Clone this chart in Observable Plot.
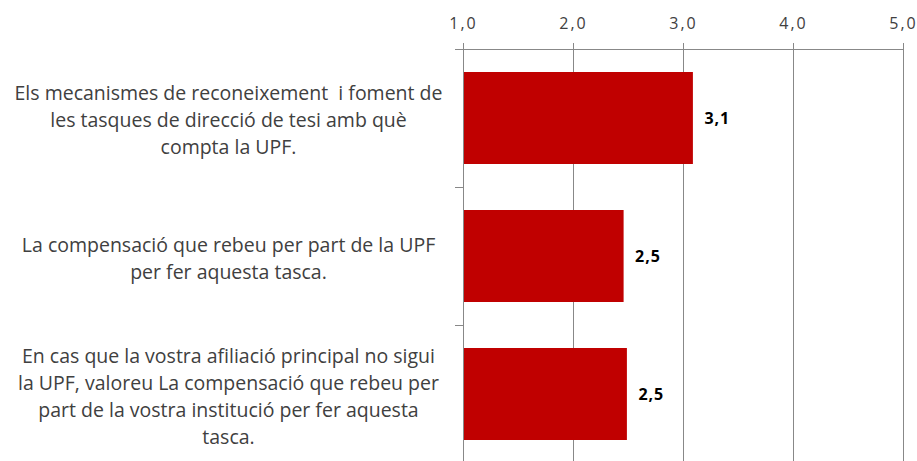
<!DOCTYPE html>
<html>
<head>
<meta charset="utf-8">
<script src="https://cdn.jsdelivr.net/npm/d3@7"></script>
<script src="https://cdn.jsdelivr.net/npm/@observablehq/plot@0.6"></script>
<style>
  html, body { margin: 0; padding: 0; background: #fff; }
  svg { display: block; }
  g[aria-label="x-axis tick label"] text { letter-spacing: 2px; }
  g[aria-label="text"] text { letter-spacing: 1px; }
</style>
</head>
<body>
<div id="chart"></div>
<script>
const categories = [
  "Els mecanismes de reconeixement  i foment de\nles tasques de direcció de tesi amb què\ncompta la UPF.",
  "La compensació que rebeu per part de la UPF\nper fer aquesta tasca.",
  "En cas que la vostra afiliació principal no sigui\nla UPF, valoreu La compensació que rebeu per\npart de la vostra institució per fer aquesta\ntasca."
];
const values = [3.09, 2.46, 2.49];
const xTicks = [1, 2, 3, 4, 5];

const data = categories.map((c, i) => ({label: c, value: values[i]}));
const fmt = d => d.toFixed(1).replace(".", ",");
const font = "'Open Sans', sans-serif";

const chart = Plot.plot({
  width: 917,
  height: 461,
  marginTop: 49,
  marginLeft: 463,
  marginRight: 14,
  marginBottom: 0,
  style: {fontFamily: font, background: "#fff"},
  x: {domain: [1, 5], range: [463, 903]},
  y: {domain: categories, range: [49, 463], padding: 0},
  marks: [
    Plot.gridX(xTicks, {stroke: "#888", strokeOpacity: 1}),
    Plot.axisX({anchor: "top", ticks: xTicks, tickFormat: fmt, tickSize: 7, tickPadding: 14,
      fontSize: 16, fill: "#404040", stroke: "#888", strokeOpacity: 1, label: null}),
    Plot.axisY({anchor: "left", tickSize: 0, tickPadding: 235, textAnchor: "middle",
      fontSize: 19.5, lineHeight: 1.39, fill: "#404040", label: null, lineWidth: 100}),
    Plot.barX(data, {y: "label", x1: 1, x2: "value", fill: "#C00000", insetTop: 23, insetBottom: 23}),
    Plot.text(data, {y: "label", x: "value", text: d => fmt(d.value), dx: 11, textAnchor: "start",
      fontWeight: "bold", fontSize: 16, fill: "#000"}),
    Plot.ruleX([1], {stroke: "#888"})
  ]
});

// band-boundary ticks and top axis line, positioned from the plot's own scales
const xs = chart.scale("x"), ys = chart.scale("y");
const x0 = xs.apply(1), x1 = xs.apply(5);
const g = d3.select(chart).append("g").attr("stroke", "#888");
g.append("line").attr("x1", x0 - 8).attr("x2", x1).attr("y1", ys.apply(categories[0]) + 0.5).attr("y2", ys.apply(categories[0]) + 0.5);
categories.forEach((c, i) => {
  if (i === 0) return;
  const yy = ys.apply(c) + 0.5;
  g.append("line").attr("x1", x0 - 8).attr("x2", x0).attr("y1", yy).attr("y2", yy);
});
document.getElementById("chart").appendChild(chart);
</script>
</body>
</html>
